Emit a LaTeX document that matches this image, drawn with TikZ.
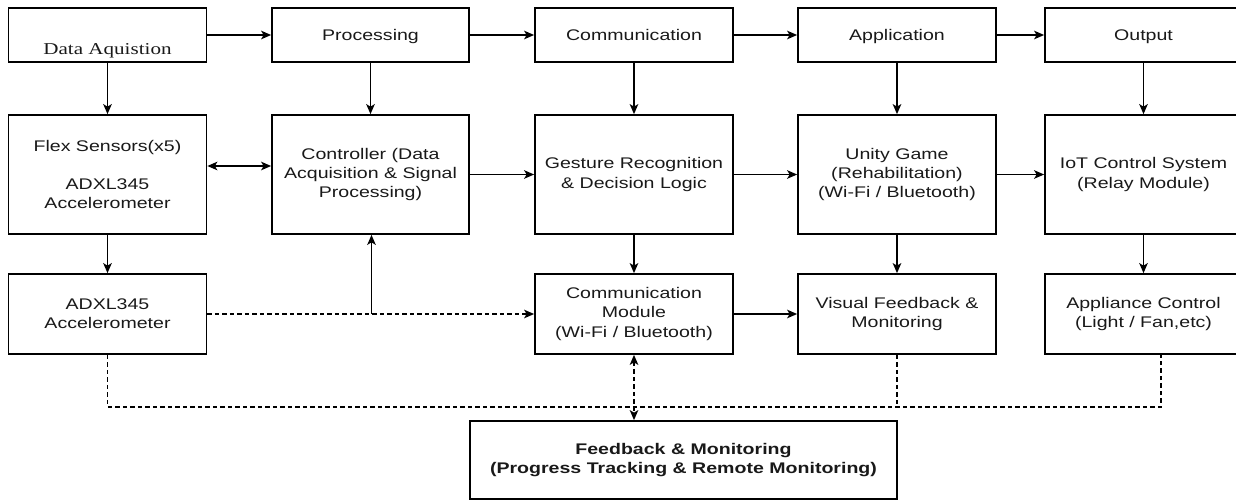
\documentclass[tikz,border=0pt]{standalone}
\usepackage{fontspec}
\setmainfont{Liberation Sans}[FakeStretch=1.27]
\newfontfamily\serifx{Liberation Serif}[FakeStretch=1.27]
\usetikzlibrary{arrows.meta}
\begin{document}
\begin{tikzpicture}[x=1pt,y=-1pt,
  >={Stealth[length=10pt,width=8.5pt,inset=2.5pt]},
  box/.style={draw, line width=1.7pt, align=center, inner sep=0pt,
    font=\fontsize{15.4}{19.3}\selectfont, text=black!90},
  toprow/.style={box, minimum width=198pt, minimum height=54pt, text height=11pt, text depth=0pt},
  midrow/.style={box, minimum width=198pt, minimum height=119pt},
  botrow/.style={box, minimum width=198pt, minimum height=80pt},
  conn/.style={line width=1.7pt, ->},
  dconn/.style={line width=1.5pt, dash pattern=on 4.5pt off 3pt}
]
\useasboundingbox (0,0) rectangle (1236,501);

% top row
\node[toprow] (da) at (107.5,35) {};
\node[font=\serifx\fontsize{16.6}{19.3}\selectfont, text=black!90, text height=11pt, text depth=0pt] (datxt) at (107.5,48.5) {Data Aquistion};
\node[toprow, minimum width=197pt] (proc) at (370.5,35) {Processing};
\node[toprow] (comm) at (634,35) {Communication};
\node[toprow] (app) at (897,35) {Application};
\node[toprow, minimum width=197pt] (out) at (1143.5,35) {Output};

% middle row
\node[midrow] (flex) at (107.5,174.5) {Flex Sensors(x5)\\[19.3pt]ADXL345\\Accelerometer};
\node[midrow, minimum width=197pt] (ctrl) at (370.5,174.5) {Controller (Data\\Acquisition \& Signal\\Processing)};
\node[midrow] (gest) at (634,174.5) {Gesture Recognition\\\& Decision Logic};
\node[midrow] (unity) at (897,174.5) {Unity Game\\(Rehabilitation)\\(Wi-Fi / Bluetooth)};
\node[midrow, minimum width=197pt] (iot) at (1143.5,174.5) {IoT Control System\\(Relay Module)};

% bottom row
\node[botrow] (adxl) at (107.5,314) {ADXL345\\Accelerometer};
\node[botrow] (cm) at (634,314) {Communication\\Module\\(Wi-Fi / Bluetooth)};
\node[botrow] (vis) at (897,314) {Visual Feedback \&\\Monitoring};
\node[botrow, minimum width=197pt] (appl) at (1143.5,314) {Appliance Control\\(Light / Fan,etc)};

% feedback
\node[box, minimum width=427pt, minimum height=78pt, font=\fontsize{15.4}{19.3}\selectfont\bfseries] (fb) at (683.5,460) {Feedback \& Monitoring\\(Progress Tracking \& Remote Monitoring)};

% top row arrows
\draw[conn] (da.east) -- (proc.west);
\draw[conn] (proc.east) -- (comm.west);
\draw[conn] (comm.east) -- (app.west);
\draw[conn] (app.east) -- (out.west);

% top to middle
\draw[conn] (da.south) -- (flex.north);
\draw[conn] (proc.south) -- (ctrl.north);
\draw[conn] (comm.south) -- (gest.north);
\draw[conn] (app.south) -- (unity.north);
\draw[conn] (out.south) -- (iot.north);

% middle row
\draw[line width=1.7pt, <->] ([yshift=8.5pt]flex.east) -- ([yshift=8.5pt]ctrl.west);
\draw[conn] (ctrl.east) -- (gest.west);
\draw[conn] (gest.east) -- (unity.west);
\draw[conn] (unity.east) -- (iot.west);

% middle to bottom
\draw[conn] (flex.south) -- (adxl.north);
\draw[conn] (gest.south) -- (cm.north);
\draw[conn] (unity.south) -- (vis.north);
\draw[conn] (iot.south) -- (appl.north);

% bottom row
\draw[dconn, ->] (adxl.east) -- (cm.west);
\coordinate (br) at (371.5,314);
\draw[conn] (br) -- (br |- ctrl.south);
\draw[conn] (cm.east) -- (vis.west);

% dashed feedback bus
\coordinate (bus) at (0,407);
\coordinate (applx) at ([xshift=17.5pt]appl.south);
\draw[dconn] (adxl.south) |- (bus -| applx) -- (applx);
\draw[dconn] (vis.south) -- (vis.south |- bus);
\draw[dconn, <->] (cm.south) -- (cm.south |- fb.north);
\end{tikzpicture}
\end{document}
